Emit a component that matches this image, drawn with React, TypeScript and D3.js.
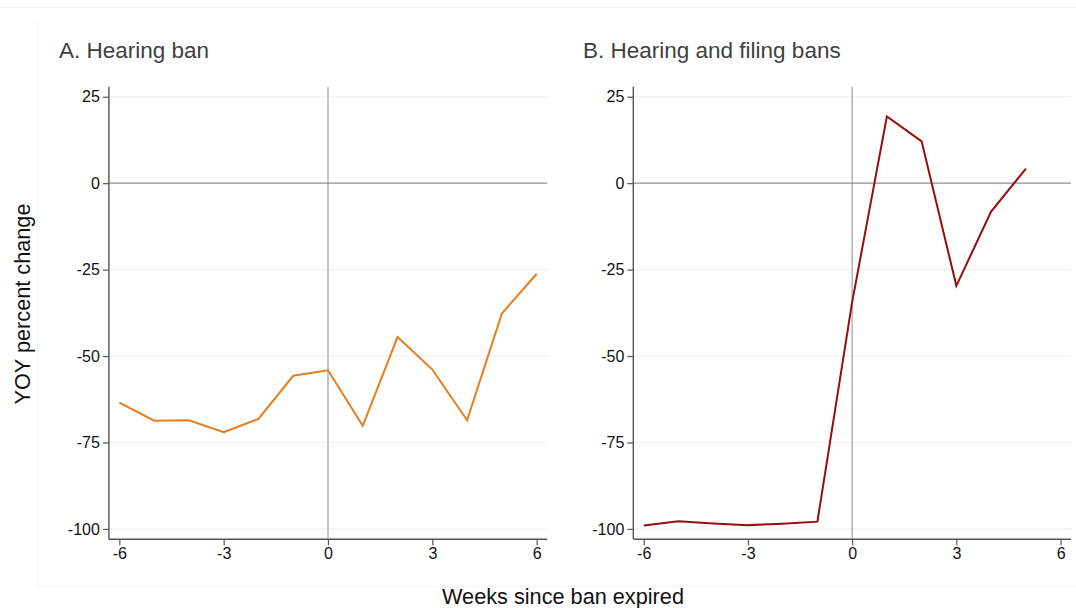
import { useEffect, useRef } from "react";
import * as d3 from "d3";

// weeks since the ban expired
const weeksA = [-6, -5, -4, -3, -2, -1, 0, 1, 2, 3, 4, 5, 6];
const valuesA = [-63.5, -68.7, -68.6, -72.0, -68.2, -55.7, -54.1, -70.2, -44.5, -53.9, -68.6, -37.7, -26.2];

const weeksB = [-6, -5, -4, -3, -2, -1, 0, 1, 2, 3, 4, 5];
const valuesB = [-99.0, -97.8, -98.4, -98.9, -98.5, -97.9, -34.4, 19.3, 12.1, -29.7, -8.2, 4.2];

const yTicks = [25, 0, -25, -50, -75, -100];
const xTicks = [-6, -3, 0, 3, 6];

const titles = ["A. Hearing ban", "B. Hearing and filing bans"];
const colors = ["#e87d1e", "#990c0c"];

const W = 1076;
const H = 608;
const FONT = "Arial, 'Liberation Sans', Helvetica, sans-serif";

export default function App() {
  const ref = useRef<SVGSVGElement | null>(null);

  useEffect(() => {
    if (!ref.current) return;
    const svg = d3.select(ref.current);
    svg.selectAll("*").remove();

    // faint outer frame lines
    svg.append("line").attr("x1", 0).attr("x2", W).attr("y1", 7.5).attr("y2", 7.5)
      .attr("stroke", "#f2f4f5").attr("stroke-width", 1);
    svg.append("line").attr("x1", 37.5).attr("x2", 37.5).attr("y1", 20).attr("y2", 586)
      .attr("stroke", "#f2f4f5").attr("stroke-width", 1);
    svg.append("line").attr("x1", 37.5).attr("x2", W).attr("y1", 586.5).attr("y2", 586.5)
      .attr("stroke", "#f2f4f5").attr("stroke-width", 1);

    const y = d3.scaleLinear().domain([-103, 27.9]).range([539.3, 86.7]);
    const fmt = (d: d3.NumberValue) => String(d);

    const panels = [
      { left: 108.9, right: 547.1, titleX: 59, weeks: weeksA, values: valuesA },
      { left: 633.3, right: 1071, titleX: 583, weeks: weeksB, values: valuesB },
    ];

    panels.forEach((p, k) => {
      const x = d3.scaleLinear().domain([-6.3, 6.3]).range([p.left, p.right]);
      const g = svg.append("g");

      // light grid
      yTicks.filter((t) => t !== 0).forEach((t) => {
        g.append("line")
          .attr("x1", p.left).attr("x2", p.right)
          .attr("y1", y(t)).attr("y2", y(t))
          .attr("stroke", "#edf1f3").attr("stroke-width", 1.2);
      });

      // reference lines at 0
      g.append("line")
        .attr("x1", x(0)).attr("x2", x(0))
        .attr("y1", y(27.9)).attr("y2", y(-103))
        .attr("stroke", "#a4a6a8").attr("stroke-width", 1.3);
      g.append("line")
        .attr("x1", p.left).attr("x2", p.right)
        .attr("y1", y(0)).attr("y2", y(0))
        .attr("stroke", "#8c9094").attr("stroke-width", 1.3);

      // axes
      const yAxis = g.append("g")
        .attr("transform", `translate(${p.left},0)`)
        .call(d3.axisLeft(y).tickValues(yTicks).tickSize(6).tickPadding(3).tickFormat(fmt));
      const xAxis = g.append("g")
        .attr("transform", `translate(0,${y(-103)})`)
        .call(d3.axisBottom(x).tickValues(xTicks).tickSize(6).tickPadding(2).tickFormat(fmt));
      [yAxis, xAxis].forEach((a) => {
        a.select(".domain").attr("stroke", "#555").attr("stroke-width", 1.4);
        a.selectAll(".tick line").attr("stroke", "#555").attr("stroke-width", 1.2);
        a.selectAll(".tick text")
          .attr("fill", "#111")
          .style("font-family", FONT)
          .style("font-size", "16px");
      });
      yAxis.select(".domain").attr("d", `M0,${y(27.9)}V${y(-103)}`);
      xAxis.select(".domain").attr("d", `M${p.left},0H${p.right}`);

      // series line
      const line = d3.line<number>()
        .x((_, i) => x(p.weeks[i]))
        .y((d) => y(d));
      g.append("path")
        .datum(p.values)
        .attr("fill", "none")
        .attr("stroke", colors[k])
        .attr("stroke-width", 2)
        .attr("stroke-linejoin", "miter")
        .attr("d", line(p.values) || "");

      // panel title
      g.append("text")
        .attr("x", p.titleX)
        .attr("y", 57.5)
        .attr("fill", "#3f3f3f")
        .style("font-family", FONT)
        .style("font-size", "22.5px")
        .text(titles[k]);
    });

    // shared axis titles
    svg.append("text")
      .attr("transform", `translate(30,304) rotate(-90)`)
      .attr("text-anchor", "middle")
      .attr("fill", "#111")
      .style("font-family", FONT)
      .style("font-size", "21.7px")
      .text("YOY percent change");
    svg.append("text")
      .attr("x", 563)
      .attr("y", 604)
      .attr("text-anchor", "middle")
      .attr("fill", "#111")
      .style("font-family", FONT)
      .style("font-size", "21.7px")
      .text("Weeks since ban expired");
  }, []);

  return (
    <div style={{ position: "absolute", left: 0, top: 0, background: "#fff" }}>
      <svg ref={ref} width={W} height={H} style={{ display: "block" }} />
    </div>
  );
}
